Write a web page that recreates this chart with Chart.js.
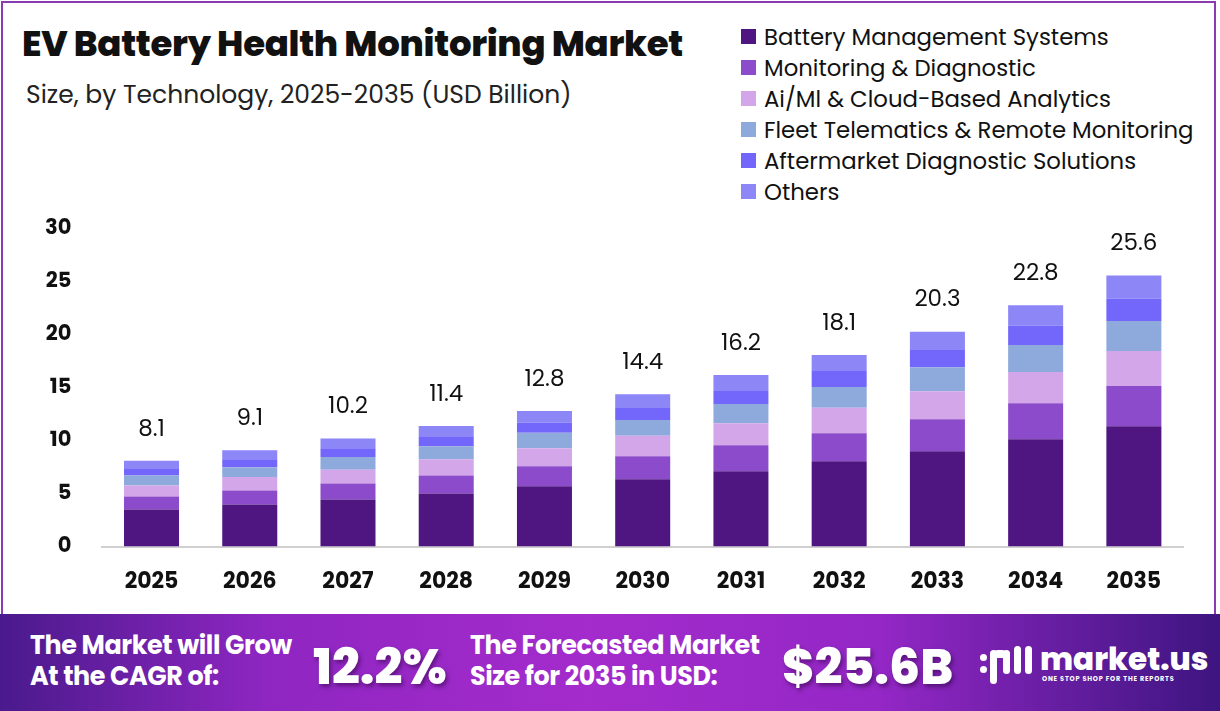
<!DOCTYPE html>
<html>
<head>
<meta charset="utf-8">
<script src="https://cdn.jsdelivr.net/npm/chart.js@4/dist/chart.umd.min.js"></script>
<style>
  body { margin: 0; width: 1220px; height: 711px; overflow: hidden; background: #fff; font-family: "Poppins", Inter, sans-serif; }
  #frame { position: absolute; left: 1px; top: 1px; width: 1215px; height: 640px; border: 2px solid #8a3bb0; box-sizing: border-box; }
  #title { position: absolute; left: 22px; top: 17px; font-size: 35.5px; font-weight: 800; color: #111; letter-spacing: -0.3px; }
  #subtitle { position: absolute; left: 26px; top: 76px; font-size: 25px; color: #222; }
  #legend { position: absolute; left: 741px; top: 21px; }
  .item { display: flex; align-items: center; height: 31px; font-size: 22.8px; color: #111; }
  .sw { width: 15px; height: 15px; margin-right: 8px; }
  #wrap { position: absolute; left: 0; top: 0; width: 1220px; height: 627px; }
  #banner { position: absolute; left: 0; top: 614px; width: 1220px; height: 97px;
    background: linear-gradient(90deg, #4a1a8c 0%, #8f26c2 22%, #a42bcc 48%, #9427c6 72%, #3d1580 100%); color: #fff; }
  .bt { position: absolute; font-weight: 700; font-size: 25.4px; line-height: 31px; letter-spacing: -0.4px; }
  .big { position: absolute; font-weight: 800; font-size: 49px; top: 17px; text-shadow: 2px 3px 4px rgba(40,0,60,0.5); }
  #logo { position: absolute; left: 1040px; top: 22px; font-weight: 800; font-size: 31px; }
  #tag { position: absolute; left: 1042px; top: 60px; font-size: 6.5px; font-weight: 700; letter-spacing: 0.8px; }
  #icon { position: absolute; left: 980px; top: 30px; width: 52px; height: 40px; }
  #icon i { position: absolute; background: #fff; border-radius: 5px; }
</style>
</head>
<body>
<div id="frame"></div>
<div id="title">EV Battery Health Monitoring Market</div>
<div id="subtitle">Size, by Technology, 2025-2035 (USD Billion)</div>
<div id="legend"></div>
<div id="wrap"><canvas id="chart"></canvas></div>
<div id="banner">
  <div class="bt" style="left:30px; top:16px;">The Market will Grow<br>At the CAGR of:</div>
  <div class="big" style="left:313px;">12.2%</div>
  <div class="bt" style="left:470px; top:16px;">The Forecasted Market<br>Size for 2035 in USD:</div>
  <div class="big" style="left:782px;">$25.6B</div>
  <div id="icon">
    <i style="left:0; top:10px; width:7px; height:7px; border-radius:50%"></i>
    <i style="left:0; top:22px; width:7px; height:7px; border-radius:50%"></i>
    <i style="left:10px; top:6px; width:20px; height:8px; border-radius:10px 10px 0 0"></i>
    <i style="left:10px; top:6px; width:7px; height:34px"></i>
    <i style="left:23px; top:6px; width:7px; height:24px"></i>
    <i style="left:34px; top:2px; width:7px; height:28px"></i>
    <i style="left:45px; top:2px; width:7px; height:28px"></i>
  </div>
  <div id="logo">market.us</div>
  <div id="tag">ONE STOP SHOP FOR THE REPORTS</div>
</div>
<script>
var years = ["2025", "2026", "2027", "2028", "2029", "2030", "2031", "2032", "2033", "2034", "2035"];
var totals = [8.1, 9.1, 10.2, 11.4, 12.8, 14.4, 16.2, 18.1, 20.3, 22.8, 25.6];

var bms = [3.5, 3.98, 4.45, 5.02, 5.69, 6.35, 7.11, 8.06, 9.0, 10.14, 11.37];
var monitoring = [1.23, 1.33, 1.52, 1.7, 1.9, 2.18, 2.46, 2.65, 3.03, 3.41, 3.79];
var aiCloud = [1.04, 1.26, 1.3, 1.52, 1.71, 1.93, 2.09, 2.4, 2.65, 2.94, 3.32];
var fleet = [0.95, 0.92, 1.2, 1.23, 1.45, 1.49, 1.8, 1.96, 2.27, 2.56, 2.84];
var aftermarket = [0.69, 0.76, 0.82, 0.95, 0.95, 1.14, 1.23, 1.58, 1.61, 1.8, 2.09];
var others = [0.69, 0.85, 0.91, 0.98, 1.11, 1.31, 1.51, 1.45, 1.74, 1.95, 2.19];

var names = ["Battery Management Systems", "Monitoring & Diagnostic", "Ai/Ml & Cloud-Based Analytics",
  "Fleet Telematics & Remote Monitoring", "Aftermarket Diagnostic Solutions", "Others"];
var series = [bms, monitoring, aiCloud, fleet, aftermarket, others];
var colors = ["#4f1681", "#8c4bcb", "#d3a6ea", "#8ea9dc", "#7366fb", "#8c86f7"];

// html legend
var lg = document.getElementById("legend");
names.forEach(function (n, i) {
  var d = document.createElement("div");
  d.className = "item";
  d.innerHTML = '<span class="sw" style="background:' + colors[i] + '"></span>' + n;
  lg.appendChild(d);
});

// totals above the bars
var totalLabels = {
  id: "totalLabels",
  afterDatasetsDraw: function (chart) {
    var ctx = chart.ctx;
    var meta = chart.getDatasetMeta(chart.data.datasets.length - 1);
    ctx.save();
    ctx.font = "23px Poppins, Inter, sans-serif";
    ctx.fillStyle = "#111";
    ctx.textAlign = "center";
    ctx.textBaseline = "middle";
    meta.data.forEach(function (bar, i) {
      ctx.fillText(totals[i].toFixed(1), bar.x, bar.y - 31);
    });
    ctx.restore();
  }
};

var chart = new Chart(document.getElementById("chart"), {
  type: "bar",
  data: {
    labels: years,
    datasets: series.map(function (s, i) {
      return { label: names[i], data: s, backgroundColor: colors[i], borderWidth: 0 };
    })
  },
  options: {
    responsive: true,
    maintainAspectRatio: false,
    animation: false,
    layout: { padding: { top: 229, left: 22, right: 37, bottom: 16 } },
    plugins: { legend: { display: false }, tooltip: { enabled: false } },
    datasets: { bar: { barPercentage: 0.56, categoryPercentage: 1 } },
    scales: {
      x: {
        stacked: true,
        grid: { display: false },
        border: { color: "#d0d0d0", width: 2 },
        ticks: { color: "#111", font: { size: 22, weight: "bold", family: "Poppins, Inter, sans-serif" }, padding: 15 }
      },
      y: {
        stacked: true,
        min: 0, max: 30,
        grid: { display: false },
        border: { display: false },
        ticks: { stepSize: 5, color: "#111", font: { size: 21, weight: "bold", family: "Poppins, Inter, sans-serif" }, padding: 23 }
      }
    }
  },
  plugins: [totalLabels]
});
</script>
</body>
</html>
